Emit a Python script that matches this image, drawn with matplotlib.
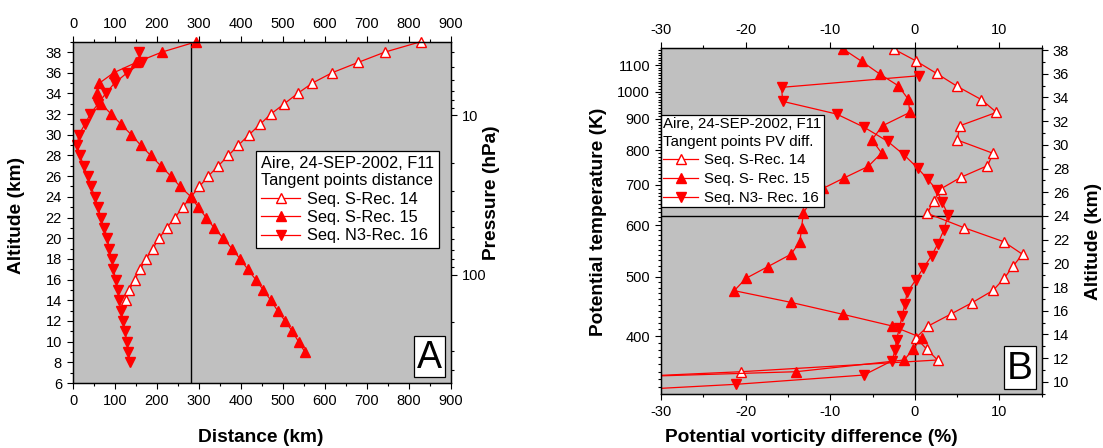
import numpy as np
import matplotlib
matplotlib.use("Agg")
import matplotlib.pyplot as plt
from matplotlib.ticker import MultipleLocator, LogLocator, NullFormatter, FuncFormatter
from matplotlib.patches import Rectangle

plt.rcParams['font.family'] = ['Liberation Sans', 'DejaVu Sans']
plt.rcParams['font.size'] = 10.5
plt.rcParams['axes.unicode_minus'] = False

# ---------------- Panel A: tangent points distance ----------------
alt_a14 = [14, 15, 16, 17, 18, 19, 20, 21, 22, 23, 24, 25, 26, 27, 28, 29, 30, 31, 32,
           33, 34, 35, 36, 37, 38, 39]
dist_a14 = [125, 134, 147, 160, 174, 190, 205, 223, 243, 261, 281, 301, 322, 346, 370,
            394, 419, 445, 471, 503, 535, 570, 617, 679, 743, 828]

alt_a15 = [9, 10, 11, 12, 13, 14, 15, 16, 17, 18, 19, 20, 21, 22, 23, 24, 25, 26, 27, 28,
           29, 30, 31, 32, 33, 34, 35, 36, 37, 38, 39]
dist_a15 = [552, 537, 522, 505, 487, 471, 453, 435, 416, 398, 378, 358, 336, 317, 298,
            281, 255, 233, 209, 185, 161, 139, 115, 91, 67, 57, 63, 97, 151, 212, 294]

alt_a16 = [8, 9, 10, 11, 12, 13, 14, 15, 16, 17, 18, 19, 20, 21, 22, 23, 24, 25, 26, 27,
           28, 29, 30, 31, 32, 33, 34, 35, 36, 37, 38]
dist_a16 = [136, 132, 128, 124, 120, 114, 110, 106, 102, 96, 92, 86, 82, 74, 66, 60, 52,
            43, 35, 25, 17, 10, 14, 28, 41, 60, 78, 99, 129, 164, 156]

dist_ref = 282          # vertical reference distance (km)
p_ref_alt = (31.89, 16.49)   # altitudes of the 10 hPa and 100 hPa levels

# ---------------- Panel B: tangent points PV difference ----------------
alt_b14 = [38.08, 37.10, 36.03, 34.94, 33.81, 32.74, 31.61, 30.41, 29.28, 28.24, 27.26,
           26.27, 25.28, 24.22, 23.00, 21.82, 20.76, 19.77, 18.73, 17.72, 16.68, 15.70,
           14.71, 13.72, 12.77, 11.84, 10.85, 9.87]
pv_b14 = [-2.48, 0.08, 2.56, 5.00, 7.88, 9.65, 5.32, 5.00, 9.26, 8.59, 5.44, 3.04, 2.25,
          1.46, 5.83, 10.52, 12.73, 11.62, 10.56, 9.26, 6.78, 4.22, 1.58, 0.12, 1.38,
          2.68, -20.57, -51.0]

alt_b15 = [38.08, 37.05, 35.97, 34.99, 33.86, 32.74, 31.61, 30.43, 29.31, 28.18, 27.20,
           26.33, 25.28, 24.22, 22.95, 21.82, 20.76, 19.71, 18.73, 17.69, 16.71, 15.70,
           14.71, 13.72, 12.77, 11.84, 10.85, 9.87]
pv_b15 = [-8.47, -6.30, -4.14, -1.97, -0.79, -0.59, -3.82, -5.08, -3.94, -5.52, -8.39,
          -10.84, -12.30, -13.20, -13.40, -13.60, -14.66, -17.41, -19.98, -21.36, -14.70,
          -8.55, -2.68, 0.79, -0.20, -1.26, -14.07, -59.0]

alt_b16 = [35.83, 34.85, 33.67, 32.60, 31.48, 30.30, 29.14, 28.04, 27.11, 26.21, 25.15,
           24.08, 22.81, 21.60, 20.62, 19.58, 18.57, 17.55, 16.54, 15.55, 14.51, 13.53,
           12.66, 11.78, 10.57, 9.79, 8.80]
pv_b16 = [0.47, -15.76, -15.64, -9.26, -5.99, -3.23, -1.26, 0.32, 1.50, 2.56, 3.23, 3.94,
          3.43, 2.68, 1.97, 0.98, 0.08, -0.91, -1.18, -1.50, -1.85, -2.17, -2.36, -2.68,
          -6.03, -21.10, -47.0]

# potential temperature levels (K) and their altitudes (km)
theta_levels = [400, 500, 600, 700, 800, 900, 1000, 1100]
theta_alt = [13.86, 18.87, 23.23, 26.61, 29.56, 32.18, 34.48, 36.73]
alt_ref_b = 24

labels14 = 'Seq. S-Rec. 14'
labels_a = ['Seq. S-Rec. 15', 'Seq. N3-Rec. 16']
labels_b = ['Seq. S- Rec. 15', 'Seq. N3- Rec. 16']


def theta_to_alt(theta):
    lt = np.log(np.asarray(theta, dtype=float))
    lr = np.log(theta_levels)
    za = np.asarray(theta_alt)
    z = np.interp(lt, lr, za)
    s_lo = (za[1] - za[0]) / (lr[1] - lr[0])
    s_hi = (za[-1] - za[-2]) / (lr[-1] - lr[-2])
    z = np.where(lt < lr[0], za[0] + s_lo * (lt - lr[0]), z)
    z = np.where(lt > lr[-1], za[-1] + s_hi * (lt - lr[-1]), z)
    return z


W, H = 1103, 448
fig = plt.figure(figsize=(W / 100, H / 100), dpi=100)
BG = '#c0c0c0'
RED = '#ff0000'


def style_ticks(ax):
    ax.tick_params(which='major', direction='out', length=4.5, width=0.8, labelsize=10.5)
    ax.tick_params(which='minor', direction='out', length=2.5, width=0.8)
    for s in ax.spines.values():
        s.set_linewidth(0.9)


def series(ax, x, y, kind, label, clip):
    if kind == 'open':
        kw = dict(marker='^', mfc='white', mec=RED)
    elif kind == 'up':
        kw = dict(marker='^', mfc=RED, mec=RED)
    else:
        kw = dict(marker='v', mfc=RED, mec=RED)
    ax.plot(x, y, '-', color=RED, lw=0.9, ms=7, mew=1.0, label=label,
            clip_on=clip, **kw)


def letter_box(ax, x0, y0, x1, y1, letter, size):
    ax.add_patch(Rectangle((x0, y0), x1 - x0, y1 - y0, transform=ax.transAxes,
                           fc='white', ec='black', lw=0.9, zorder=6, clip_on=False))
    ax.text((x0 + x1) / 2, (y0 + y1) / 2 - 0.003, letter, transform=ax.transAxes,
            ha='center', va='center', fontsize=size, zorder=7)


def px_axes(l, r, t, b):
    return [l / W, 1 - b / H, (r - l) / W, (b - t) / H]


# ---------------- Panel A ----------------
axA = fig.add_axes(px_axes(73, 451, 41.7, 383))
axA.set_facecolor(BG)
series(axA, dist_a14, alt_a14, 'open', labels14, False)
series(axA, dist_a15, alt_a15, 'up', labels_a[0], False)
series(axA, dist_a16, alt_a16, 'down', labels_a[1], False)
axA.axvline(dist_ref, color='black', lw=1.0, zorder=1.5)
axA.set_xlim(0, 900)
axA.set_ylim(6, 39)
axA.xaxis.set_major_locator(MultipleLocator(100))
axA.xaxis.set_minor_locator(MultipleLocator(50))
axA.yaxis.set_major_locator(MultipleLocator(2))
axA.yaxis.set_minor_locator(MultipleLocator(1))

axP = axA.twinx()
axP.set_yscale('log')
z10, z100 = p_ref_alt
dec = z10 - z100
axP.set_ylim(10 * 10 ** ((z10 - 6) / dec), 10 * 10 ** ((z10 - 39) / dec))
axP.yaxis.set_major_locator(LogLocator(base=10))
axP.yaxis.set_minor_locator(LogLocator(base=10, subs=np.arange(2, 10)))
axP.yaxis.set_major_formatter(FuncFormatter(lambda v, p: f'{v:g}'))
axP.yaxis.set_minor_formatter(NullFormatter())

style_ticks(axA)
style_ticks(axP)
axA.tick_params(axis='x', which='both', top=True, labeltop=True)
axA.tick_params(axis='y', which='both', right=False)

legA = axA.legend(loc='upper left', bbox_to_anchor=(0.484, 0.68),
                  title='Aire, 24-SEP-2002, F11\nTangent points distance',
                  alignment='left', fontsize=11.8, title_fontsize=11.8,
                  fancybox=False, edgecolor='black', framealpha=1,
                  borderpad=0.3, labelspacing=0.2, handlelength=2.4,
                  handletextpad=0.4, borderaxespad=0)
legA.get_frame().set_linewidth(0.9)
legA.get_title().set_linespacing(1.22)
letter_box(axA, 0.902, 0.0176, 0.984, 0.1377, 'A', 27)

# ---------------- Panel B ----------------
axB = fig.add_axes(px_axes(661.2, 1041.7, 48.5, 394))
axB.set_facecolor(BG)
series(axB, pv_b14, alt_b14, 'open', labels14, True)
series(axB, pv_b15, alt_b15, 'up', labels_b[0], True)
series(axB, pv_b16, alt_b16, 'down', labels_b[1], True)
axB.axvline(0, color='black', lw=1.0, zorder=1.5)
axB.axhline(alt_ref_b, color='black', lw=1.0, zorder=1.5)
axB.set_xlim(-30, 15)
axB.set_ylim(8.97, 38.13)
axB.xaxis.set_major_locator(MultipleLocator(10))
axB.xaxis.set_minor_locator(MultipleLocator(5))

axR = axB.twinx()
axR.set_ylim(axB.get_ylim())
axR.yaxis.set_major_locator(MultipleLocator(2))
axR.yaxis.set_minor_locator(MultipleLocator(1))

lo, hi = axB.get_ylim()
axB.set_yticks(theta_to_alt(theta_levels), labels=[str(t) for t in theta_levels])
minor_theta = np.arange(320, 1180, 10)
minor_z = theta_to_alt(minor_theta)
axB.set_yticks(minor_z[(minor_z > lo) & (minor_z < hi)], minor=True)
axB.set_ylim(lo, hi)

style_ticks(axB)
style_ticks(axR)
axB.tick_params(axis='x', which='both', top=True, labeltop=True)
axB.tick_params(axis='y', which='both', right=False)

legB = axB.legend(loc='upper left', bbox_to_anchor=(0.0, 0.8075),
                  title='Aire, 24-SEP-2002, F11\nTangent points PV diff.',
                  alignment='left', fontsize=10.8, title_fontsize=10.8,
                  fancybox=False, edgecolor='black', framealpha=1,
                  borderpad=0.15, labelspacing=0.32, handlelength=2.3,
                  handletextpad=0.4, borderaxespad=0)
legB.get_frame().set_linewidth(0.9)
legB.get_title().set_linespacing(1.3)
letter_box(axB, 0.901, 0.0145, 0.985, 0.139, 'B', 28)

# ---------------- axis titles ----------------
def label(x, y, s, rot=0):
    fig.text(x / W, 1 - y / H, s, ha='center', va='center', rotation=rot,
             fontsize=13.8, fontweight='bold')

label(17, 215, 'Altitude (km)', 90)
label(261, 437, 'Distance (km)')
label(491, 193, 'Pressure (hPa)', 90)
label(598.5, 222, 'Potential temperature (K)', 90)
label(811, 437, 'Potential vorticity difference (%)')
label(1093.5, 241, 'Altitude (km)', 90)

fig.savefig('out.png', dpi=100)
